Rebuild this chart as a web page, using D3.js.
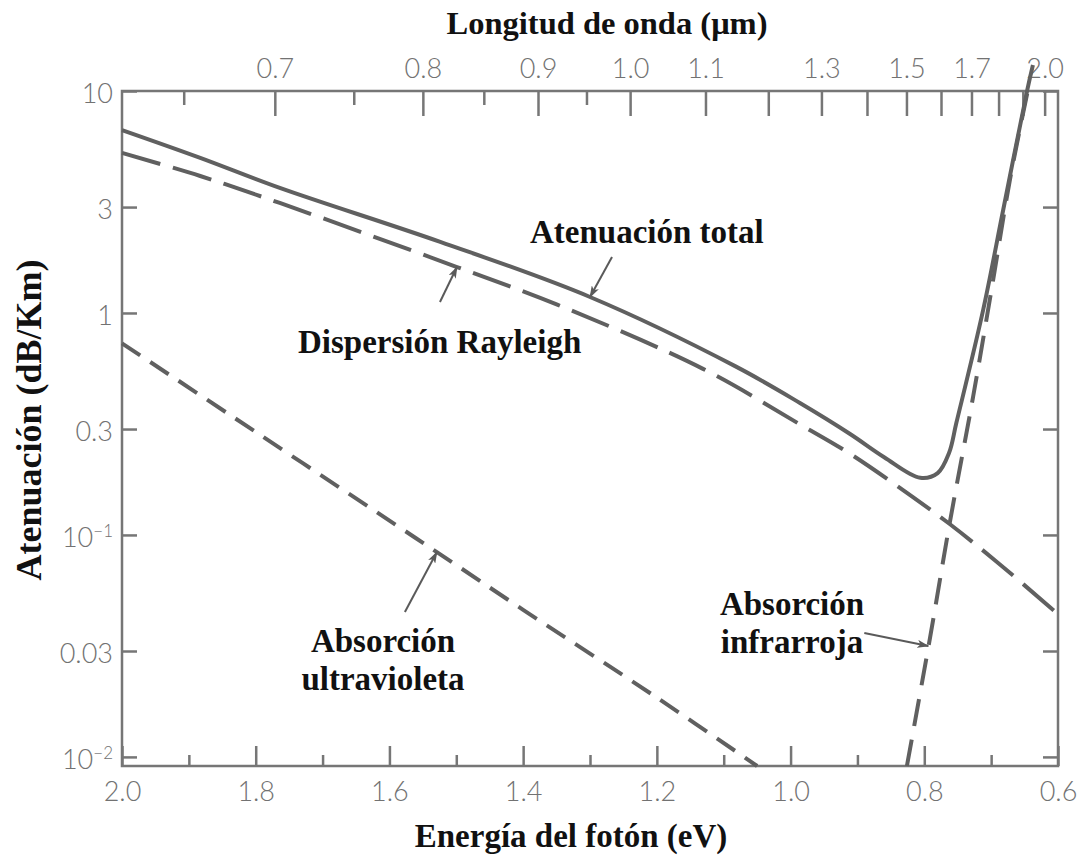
<!DOCTYPE html>
<html>
<head>
<meta charset="utf-8">
<script src="https://cdn.jsdelivr.net/npm/d3@7"></script>
<style>
  html, body { margin: 0; padding: 0; background: #ffffff; }
  svg { display: block; }
</style>
</head>
<body>
<script>
// Photon energy ↔ wavelength conversion constant (eV·μm)
const EV_UM = 1.24;

// Axis ticks
const energyTicks = [2.0, 1.8, 1.6, 1.4, 1.2, 1.0, 0.8, 0.6];
const energyMinorTicks = [1.9, 1.7, 1.5, 1.3, 1.1, 0.9, 0.7];
const wavelengthTicks = [0.7, 0.8, 0.9, 1.0, 1.1, 1.2, 1.3, 1.4, 1.5, 1.6, 1.7, 1.8, 1.9, 2.0];
const wavelengthMinorTicks = [0.65, 0.75, 0.85, 0.95];
const wavelengthLabels = [0.7, 0.8, 0.9, 1.0, 1.1, 1.3, 1.5, 1.7, 2.0];
const attenTicks = [10, 3, 1, 0.3, 0.1, 0.03, 0.01];
const attenFloor = 0.0091;   // lower edge of the plotted range
const attenCeil = 10;

// Total attenuation (solid)
const totalEnergy = [2.0, 1.883, 1.764, 1.524, 1.300, 1.083, 0.986, 0.911, 0.86, 0.806, 0.78, 0.763, 0.752, 0.712, 0.682, 0.646, 0.6375];
const totalAtten  = [6.67, 5.0, 3.66, 2.09, 1.18, 0.576, 0.393, 0.285, 0.224, 0.181, 0.19, 0.234, 0.32, 1.03, 2.91, 10.1, 13.1];

// Rayleigh scattering (long dashes)
const rayleighEnergy = [2.0, 1.883, 1.764, 1.499, 1.349, 1.131, 0.986, 0.911, 0.817, 0.762, 0.69, 0.6];
const rayleighAtten  = [5.26, 4.14, 3.13, 1.61, 1.09, 0.56, 0.315, 0.232, 0.148, 0.112, 0.075, 0.044];

// Ultraviolet absorption (short dashes)
const uvEnergy = [2.0, 1.8, 1.6, 1.529, 1.4, 1.2, 1.05];
const uvAtten  = [0.73, 0.291, 0.116, 0.0837, 0.046, 0.0185, 0.0091];

// Infrared absorption (dashes)
const irEnergy = [0.826, 0.7915, 0.762, 0.727, 0.697, 0.672, 0.645];
const irAtten  = [0.0091, 0.0343, 0.113, 0.419, 1.41, 3.97, 10.1];

const W = 1087, H = 857;
const svg = d3.select("body").append("svg")
  .attr("width", W).attr("height", H)
  .style("background", "#ffffff");

const x = d3.scaleLinear().domain([2.0, 0.6]).range([122, 1058]);
const y = d3.scaleLog().domain([attenFloor, attenCeil]).range([766, 91]);

const axisColor = "#767676";
const curveColor = "#606060";
const tickFont = "Lato, 'Open Sans', sans-serif";
const serif = "'Liberation Serif', 'Times New Roman', serif";

// Plot frame
svg.append("rect")
  .attr("x", x(2.0)).attr("y", y(attenCeil))
  .attr("width", x(0.6) - x(2.0))
  .attr("height", y(attenFloor) - y(attenCeil))
  .attr("fill", "none")
  .attr("stroke", axisColor)
  .attr("stroke-width", 2.5);

function styleAxis(g) {
  g.select(".domain").remove();
  g.selectAll(".tick line").attr("stroke", axisColor).attr("stroke-width", 2.5);
  g.selectAll(".tick text")
    .attr("fill", "#727272")
    .attr("font-family", tickFont)
    .attr("font-weight", 300)
    .attr("font-size", 27);
  g.attr("font-family", tickFont).attr("font-size", 27);
}

// Bottom axis: photon energy
svg.append("g")
  .attr("transform", `translate(0,${y(attenFloor)})`)
  .call(d3.axisBottom(x).tickValues(energyTicks).tickSize(-20).tickPadding(16)
    .tickFormat(d3.format(".1f")))
  .call(styleAxis);
svg.append("g")
  .attr("transform", `translate(0,${y(attenFloor)})`)
  .call(d3.axisBottom(x).tickValues(energyMinorTicks).tickSize(-11).tickFormat(""))
  .call(styleAxis);

// Top axis: wavelength, placed at the matching photon energy
const labelSet = new Set(wavelengthLabels.map(v => v.toFixed(1)));
svg.append("g")
  .attr("transform", `translate(0,${y(attenCeil)})`)
  .call(d3.axisTop(x).tickValues(wavelengthTicks.map(l => EV_UM / l)).tickSize(-25).tickPadding(13)
    .tickFormat(e => {
      const s = (EV_UM / e).toFixed(1);
      return labelSet.has(s) ? s : "";
    }))
  .call(styleAxis);
svg.append("g")
  .attr("transform", `translate(0,${y(attenCeil)})`)
  .call(d3.axisTop(x).tickValues(wavelengthMinorTicks.map(l => EV_UM / l)).tickSize(-14).tickFormat(""))
  .call(styleAxis);

// Left axis: attenuation (log)
const supers = { "0.1": "\u22121", "0.01": "\u22122" };
const leftAxis = svg.append("g")
  .attr("transform", `translate(${x(2.0)},0)`)
  .call(d3.axisLeft(y).tickValues(attenTicks).tickSize(-15).tickPadding(9)
    .tickFormat(d => String(d)))
  .call(styleAxis);
leftAxis.selectAll(".tick text")
  .attr("dy", "0.42em")
  .each(function(d) {
    const key = String(d);
    if (supers[key]) {
      const t = d3.select(this).text(null);
      t.append("tspan").text("10");
      t.append("tspan").attr("dy", "-0.6em").attr("font-size", 17).text(supers[key]);
    }
  });

// Right axis: ticks only
svg.append("g")
  .attr("transform", `translate(${x(0.6)},0)`)
  .call(d3.axisRight(y).tickValues(attenTicks).tickSize(-15).tickFormat(""))
  .call(styleAxis);

// Curves
const zip = (es, as) => es.map((e, i) => ({ E: e, A: as[i] }));
const line = d3.line()
  .x(d => x(d.E)).y(d => y(d.A))
  .curve(d3.curveCatmullRom.alpha(0.5));

const series = [
  { data: zip(rayleighEnergy, rayleighAtten), dash: "40,13" },
  { data: zip(uvEnergy, uvAtten), dash: "22,12" },
  { data: zip(irEnergy, irAtten), dash: "27,14" },
  { data: zip(totalEnergy, totalAtten), dash: null }
];
svg.append("g").selectAll("path")
  .data(series)
  .join("path")
  .attr("d", s => line(s.data))
  .attr("fill", "none")
  .attr("stroke", curveColor)
  .attr("stroke-width", 4)
  .attr("stroke-dasharray", s => s.dash)
  .attr("stroke-linecap", "butt")
  .attr("stroke-linejoin", "round");

// Axis titles
svg.append("text")
  .attr("x", 607).attr("y", 34)
  .attr("text-anchor", "middle")
  .attr("font-family", serif).attr("font-weight", "bold").attr("font-size", 32.5)
  .attr("fill", "#111")
  .text("Longitud de onda (\u03bcm)");

svg.append("text")
  .attr("x", 571).attr("y", 847)
  .attr("text-anchor", "middle")
  .attr("font-family", serif).attr("font-weight", "bold").attr("font-size", 33)
  .attr("fill", "#111")
  .text("Energía del fotón (eV)");

svg.append("text")
  .attr("transform", "translate(41,420) rotate(-90)")
  .attr("text-anchor", "middle")
  .attr("font-family", serif).attr("font-weight", "bold").attr("font-size", 36)
  .attr("fill", "#111")
  .text("Atenuación (dB/Km)");

// Curve annotations with arrows
const defs = svg.append("defs");
defs.append("marker")
  .attr("id", "arrowhead")
  .attr("viewBox", "0 0 12 8")
  .attr("refX", 11).attr("refY", 4)
  .attr("markerWidth", 12).attr("markerHeight", 8)
  .attr("markerUnits", "userSpaceOnUse")
  .attr("orient", "auto")
  .append("path")
  .attr("d", "M0,0 L12,4 L0,8 L3,4 Z")
  .attr("fill", "#5a5a5a");

const annotations = [
  { lines: ["Atenuación total"], tx: 530, ty: 243, anchor: "start", tipE: 1.30, tipA: 1.18, dx: 22, dy: -40 },
  { lines: ["Dispersión Rayleigh"], tx: 298, ty: 353, anchor: "start", tipE: 1.499, tipA: 1.61, dx: -17, dy: 35 },
  { lines: ["Absorción", "ultravioleta"], tx: 383, ty: 652, anchor: "middle", tipE: 1.529, tipA: 0.0837, dx: -32, dy: 60 },
  { lines: ["Absorción", "infrarroja"], tx: 792, ty: 615, anchor: "middle", tipE: 0.794, tipA: 0.0316, dx: -64, dy: -13 }
];

annotations.forEach(a => {
  const tipX = x(a.tipE), tipY = y(a.tipA);
  svg.append("line")
    .attr("x1", tipX + a.dx).attr("y1", tipY + a.dy)
    .attr("x2", tipX).attr("y2", tipY)
    .attr("stroke", "#5a5a5a").attr("stroke-width", 2)
    .attr("marker-end", "url(#arrowhead)");
  const t = svg.append("text")
    .attr("x", a.tx).attr("y", a.ty)
    .attr("text-anchor", a.anchor)
    .attr("font-family", serif).attr("font-weight", "bold").attr("font-size", 33)
    .attr("fill", "#111");
  a.lines.forEach((s, i) => {
    t.append("tspan").attr("x", a.tx).attr("dy", i === 0 ? 0 : 38).text(s);
  });
});
</script>
</body>
</html>
